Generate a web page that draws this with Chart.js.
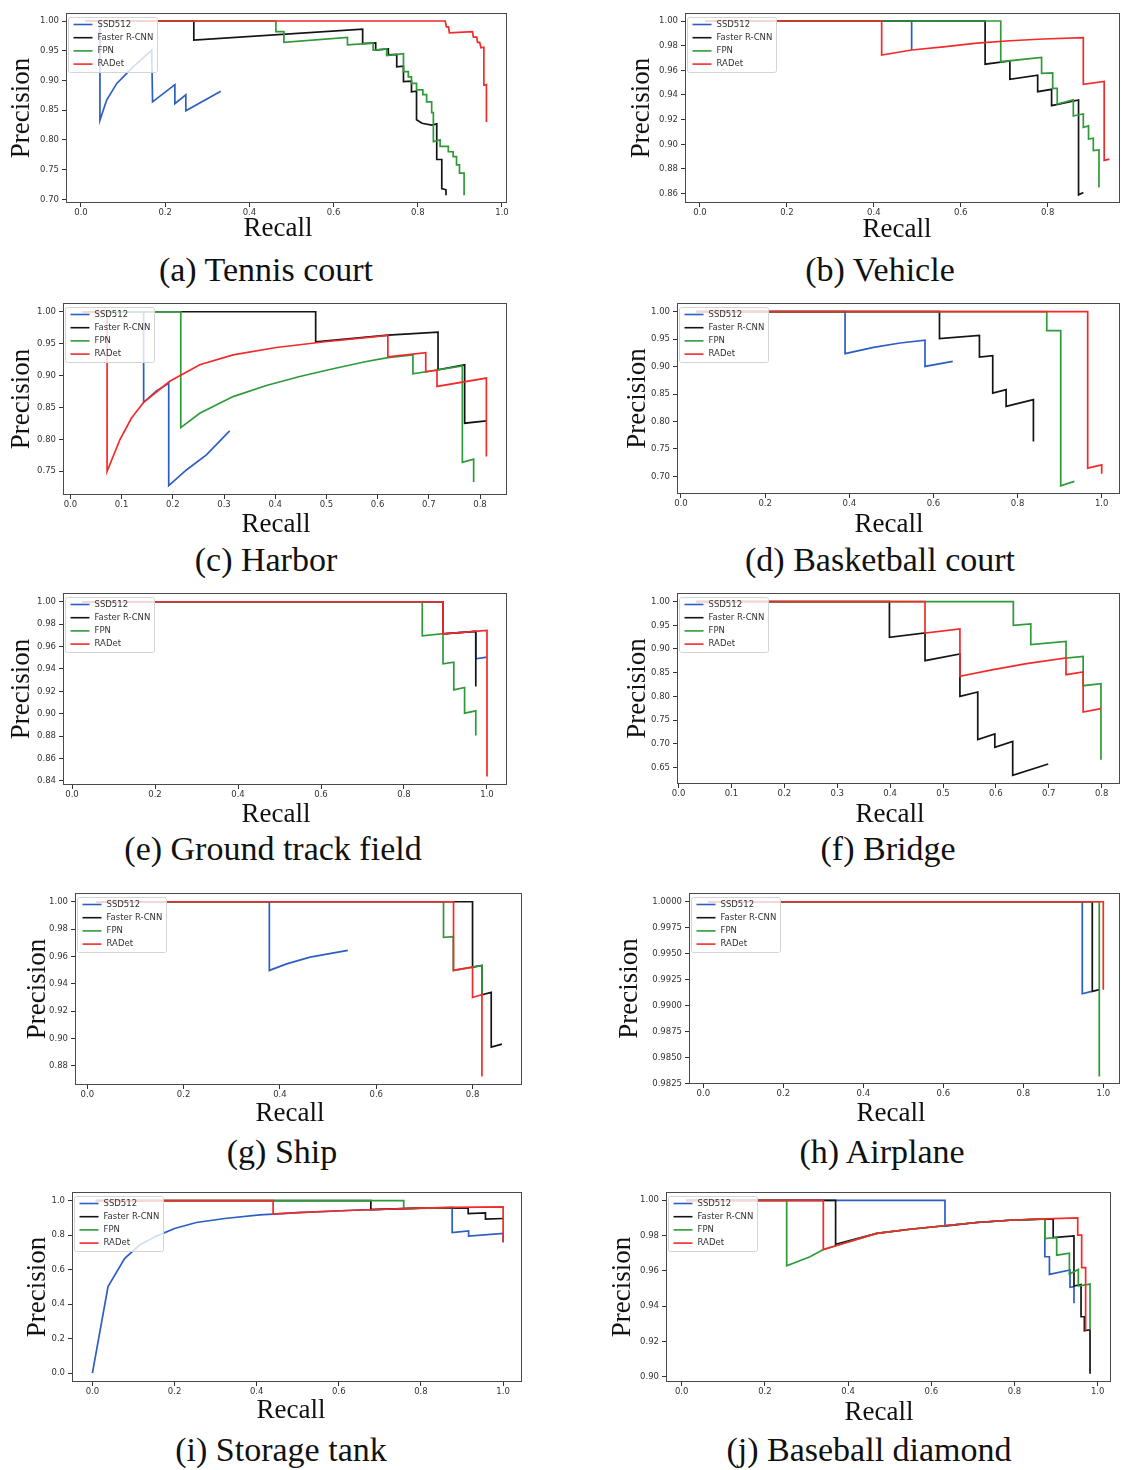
<!DOCTYPE html>
<html lang="en">
<head>
<meta charset="UTF-8">
<title>Precision-Recall curves per category</title>
<script src="https://cdn.jsdelivr.net/npm/chart.js"></script>
<style>
    * {
        margin: 0;
        padding: 0;
        box-sizing: border-box;
    }

    body {
        width: 1121px;
        height: 1470px;
        background: #fff;
        position: relative;
        overflow: hidden;
    }

    canvas {
        position: absolute;
    }

    /* sub-figure captions under each plot */
    .caption {
        position: absolute;
        width: 500px;
        text-align: center;
        font-family: "Liberation Serif", "Times New Roman", serif;
        font-size: 34px;
        line-height: 34px;
        color: #111;
        white-space: nowrap;
    }
</style>
</head>
<body>
<script>
    // legend entries, same order for every plot
    const seriesNames = ['SSD512', 'Faster R-CNN', 'FPN', 'RADet'];

    // tick values
    const xTicksFifth = [0, 0.2, 0.4, 0.6, 0.8, 1.0];
    const xTicksFifthShort = [0, 0.2, 0.4, 0.6, 0.8];
    const xTicksTenth = [0, 0.1, 0.2, 0.3, 0.4, 0.5, 0.6, 0.7, 0.8];
    const tennisYTicks = [0.70, 0.75, 0.80, 0.85, 0.90, 0.95, 1.00];
    const vehicleYTicks = [0.86, 0.88, 0.90, 0.92, 0.94, 0.96, 0.98, 1.00];
    const harborYTicks = [0.75, 0.80, 0.85, 0.90, 0.95, 1.00];
    const basketYTicks = [0.70, 0.75, 0.80, 0.85, 0.90, 0.95, 1.00];
    const groundYTicks = [0.84, 0.86, 0.88, 0.90, 0.92, 0.94, 0.96, 0.98, 1.00];
    const bridgeYTicks = [0.65, 0.70, 0.75, 0.80, 0.85, 0.90, 0.95, 1.00];
    const shipYTicks = [0.88, 0.90, 0.92, 0.94, 0.96, 0.98, 1.00];
    const airYTicks = [0.9825, 0.9850, 0.9875, 0.9900, 0.9925, 0.9950, 0.9975, 1.0000];
    const tankYTicks = [0.0, 0.2, 0.4, 0.6, 0.8, 1.0];
    const baseYTicks = [0.90, 0.92, 0.94, 0.96, 0.98, 1.00];

    // (a) Tennis court  [recall, precision]
    const tennisSSD = [[0.045,1],[0.045,0.833],[0.061,0.867],[0.085,0.895],[0.124,0.923],[0.168,0.951],[0.170,0.864],[0.223,0.893],[0.223,0.861],[0.249,0.876],[0.249,0.849],[0.332,0.882]];
    const tennisFRCNN = [[0.01,1],[0.268,1],[0.268,0.968],[0.669,0.9865],[0.669,0.962],[0.70,0.963],[0.70,0.951],[0.73,0.953],[0.73,0.943],[0.75,0.944],[0.75,0.923],[0.766,0.924],[0.766,0.898],[0.785,0.899],[0.785,0.881],[0.797,0.882],[0.797,0.834],[0.81,0.828],[0.833,0.825],[0.845,0.827],[0.845,0.767],[0.857,0.767],[0.857,0.718],[0.867,0.716],[0.867,0.707]];
    const tennisFPN = [[0.01,1],[0.463,1],[0.463,0.982],[0.482,0.982],[0.482,0.964],[0.633,0.9725],[0.633,0.96],[0.694,0.9627],[0.694,0.951],[0.726,0.953],[0.726,0.942],[0.766,0.945],[0.766,0.915],[0.7775,0.915],[0.7775,0.906],[0.785,0.906],[0.785,0.895],[0.797,0.895],[0.797,0.884],[0.812,0.884],[0.812,0.876],[0.821,0.876],[0.821,0.864],[0.833,0.864],[0.833,0.846],[0.837,0.846],[0.837,0.797],[0.853,0.8],[0.853,0.789],[0.8725,0.789],[0.8725,0.78],[0.884,0.78],[0.884,0.772],[0.892,0.772],[0.892,0.758],[0.899,0.758],[0.899,0.744],[0.91,0.744],[0.91,0.707]];
    const tennisRADet = [[0.01,1],[0.865,1],[0.868,0.99],[0.873,0.99],[0.875,0.98],[0.93,0.982],[0.932,0.973],[0.94,0.973],[0.942,0.964],[0.947,0.964],[0.95,0.955],[0.957,0.956],[0.957,0.892],[0.963,0.893],[0.963,0.83]];

    // (b) Vehicle
    const vehicleSSD = [[0.0115,1],[0.487,1],[0.487,0.9765]];
    const vehicleFRCNN = [[0.0115,1],[0.656,1],[0.656,0.965],[0.713,0.9676],[0.713,0.9527],[0.777,0.956],[0.777,0.9427],[0.809,0.9446],[0.809,0.9314],[0.871,0.936],[0.871,0.859],[0.882,0.861]];
    const vehicleFPN = [[0.0115,1],[0.692,1],[0.692,0.967],[0.786,0.9705],[0.786,0.9576],[0.8115,0.958],[0.8115,0.9454],[0.822,0.9454],[0.822,0.9327],[0.859,0.936],[0.859,0.923],[0.871,0.924],[0.882,0.9246],[0.882,0.9138],[0.894,0.915],[0.894,0.9043],[0.905,0.905],[0.905,0.895],[0.918,0.8955],[0.918,0.865]];
    const vehicleRADet = [[0.0115,1],[0.418,1],[0.418,0.9724],[0.487,0.9765],[0.56,0.979],[0.637,0.982],[0.713,0.984],[0.79,0.9854],[0.882,0.9865],[0.882,0.9486],[0.93,0.951],[0.93,0.887],[0.942,0.888]];

    // (c) Harbor
    const harborSSD = [[0.0234,1],[0.143,1],[0.143,0.858],[0.168,0.876],[0.192,0.888],[0.192,0.7275],[0.2265,0.752],[0.2656,0.7756],[0.311,0.8133]];
    const harborFRCNN = [[0.0234,1],[0.479,1],[0.479,0.953],[0.62,0.9635],[0.718,0.968],[0.718,0.909],[0.77,0.9168],[0.77,0.8253],[0.8124,0.829]];
    const harborFPN = [[0.0234,1],[0.2155,1],[0.2155,0.8185],[0.2526,0.841],[0.3177,0.867],[0.3827,0.8844],[0.448,0.8985],[0.513,0.9106],[0.578,0.922],[0.62,0.928],[0.669,0.9325],[0.669,0.9027],[0.7655,0.915],[0.7655,0.764],[0.7876,0.769],[0.7876,0.733]];
    const harborRADet = [[0.0234,1],[0.0716,1],[0.0716,0.75],[0.0963,0.799],[0.119,0.833],[0.143,0.858],[0.194,0.891],[0.2526,0.917],[0.3177,0.9325],[0.402,0.944],[0.497,0.953],[0.62,0.963],[0.62,0.9294],[0.694,0.9357],[0.694,0.906],[0.716,0.9085],[0.716,0.883],[0.8124,0.896],[0.8124,0.773]];

    // (d) Basketball court
    const basketSSD = [[0.0364,1],[0.39,1],[0.39,0.9235],[0.4576,0.935],[0.521,0.943],[0.58,0.948],[0.58,0.9004],[0.646,0.9095]];
    const basketFRCNN = [[0.0364,1],[0.6144,1],[0.6144,0.9508],[0.7094,0.9569],[0.7094,0.9174],[0.741,0.92],[0.741,0.8518],[0.7728,0.858],[0.7728,0.8275],[0.8377,0.8397],[0.8377,0.7638]];
    const basketFPN = [[0.0364,1],[0.8694,1],[0.8694,0.9654],[0.9026,0.9654],[0.9026,0.683],[0.935,0.691]];
    const basketRADet = [[0.0364,1],[0.9667,1],[0.9667,0.715],[1.0,0.721],[1.0,0.705]];

    // (e) Ground track field
    const groundSSD = [[0.025,1],[0.894,1],[0.894,0.9714],[0.973,0.9735],[0.973,0.949],[1.0,0.9505]];
    const groundFRCNN = [[0.025,1],[0.894,1],[0.894,0.9714],[0.973,0.9735],[0.973,0.9243]];
    const groundFPN = [[0.025,1],[0.844,1],[0.844,0.9696],[0.894,0.9714],[0.894,0.9446],[0.92,0.946],[0.92,0.9213],[0.946,0.9234],[0.946,0.9005],[0.973,0.9026],[0.973,0.8805]];
    const groundRADet = [[0.025,1],[0.894,1],[0.894,0.9714],[1.0,0.9744],[1.0,0.844]];

    // (f) Bridge (no SSD512 curve visible)
    const bridgeSSD = [];
    const bridgeFRCNN = [[0.0334,1],[0.3987,1],[0.3987,0.9246],[0.466,0.934],[0.466,0.8754],[0.532,0.8894],[0.532,0.8],[0.5657,0.8092],[0.5657,0.7085],[0.598,0.7204],[0.598,0.6923],[0.6318,0.7049],[0.6318,0.6331],[0.699,0.657]];
    const bridgeFPN = [[0.0334,1],[0.633,1],[0.633,0.95],[0.666,0.9528],[0.666,0.9092],[0.7326,0.9162],[0.7326,0.881],[0.765,0.8845],[0.765,0.8225],[0.7987,0.8268],[0.7987,0.6662]];
    const bridgeRADet = [[0.0334,1],[0.466,1],[0.466,0.9338],[0.532,0.9423],[0.532,0.8423],[0.595,0.8563],[0.658,0.869],[0.7326,0.881],[0.7326,0.8458],[0.765,0.8514],[0.765,0.7669],[0.7987,0.774]];

    // (g) Ship
    const shipSSD = [[0.018,1],[0.378,1],[0.378,0.9498],[0.414,0.9546],[0.4627,0.9595],[0.541,0.9644]];
    const shipFRCNN = [[0.018,1],[0.8,1],[0.8,0.9522],[0.8195,0.9534],[0.8195,0.932],[0.8388,0.9337],[0.8388,0.8937],[0.861,0.8959]];
    const shipFPN = [[0.018,1],[0.7397,1],[0.7397,0.9739],[0.76,0.9745],[0.76,0.9498],[0.8,0.9522],[0.8195,0.9534],[0.8195,0.932]];
    const shipRADet = [[0.018,1],[0.7605,1],[0.7605,0.9498],[0.8,0.9522],[0.8,0.93],[0.8195,0.932],[0.8195,0.8722]];

    // (h) Airplane
    const airSSD = [[0.0125,1],[0.9475,1],[0.9475,0.99115],[0.971,0.99138]];
    const airFRCNN = [[0.0125,1],[0.9725,1],[0.9725,0.99138],[0.99,0.99154]];
    const airFPN = [[0.0125,1],[0.99,1],[0.99,0.9832]];
    const airRADet = [[0.0125,1],[1.0,1],[1.0,0.99154]];

    // (i) Storage tank
    const tankSSD = [[0,0],[0.038,0.501],[0.0787,0.665],[0.115,0.742],[0.156,0.794],[0.2,0.838],[0.253,0.873],[0.322,0.896],[0.4075,0.917],[0.5,0.93],[0.635,0.944],[0.797,0.956],[0.876,0.958],[0.876,0.815],[0.916,0.8246],[0.916,0.7938],[1.0,0.809],[1.0,0.757]];
    const tankFRCNN = [[0.008,1],[0.678,1],[0.678,0.948],[0.797,0.956],[0.915,0.958],[0.915,0.925],[0.957,0.929],[0.957,0.892],[1.0,0.896]];
    const tankFPN = [[0.008,1],[0.758,1],[0.758,0.952],[0.88,0.96]];
    const tankRADet = [[0.008,1],[0.44,1],[0.44,0.921],[0.5,0.93],[0.635,0.944],[0.797,0.956],[0.88,0.96],[1.0,0.963],[1.0,0.76]];

    // (j) Baseball diamond
    const baseSSD = [[0.0104,1],[0.633,1],[0.633,0.9853],[0.709,0.9874],[0.789,0.9887],[0.873,0.9895],[0.873,0.968],[0.884,0.968],[0.884,0.958],[0.9335,0.9605],[0.9335,0.9507],[0.943,0.951],[0.943,0.9416]];
    const baseFRCNN = [[0.0104,1],[0.37,1],[0.37,0.975],[0.469,0.9812],[0.549,0.9836],[0.709,0.9874],[0.789,0.9887],[0.893,0.9895],[0.893,0.9789],[0.943,0.9798],[0.943,0.9514],[0.96,0.9523],[0.96,0.934],[0.968,0.934],[0.968,0.926],[0.9816,0.9266],[0.9816,0.9017]];
    const baseFPN = [[0.0104,1],[0.2524,1],[0.2524,0.9629],[0.3085,0.968],[0.3405,0.9721],[0.3886,0.9755],[0.469,0.9812],[0.549,0.9836],[0.709,0.9874],[0.789,0.9887],[0.873,0.9895],[0.873,0.9783],[0.9014,0.9789],[0.9014,0.9689],[0.932,0.97],[0.932,0.9582],[0.9535,0.9608],[0.9535,0.9514],[0.9816,0.9525],[0.9816,0.9266]];
    const baseRADet = [[0.0104,1],[0.3405,1],[0.3405,0.9721],[0.3886,0.9755],[0.469,0.9812],[0.549,0.9836],[0.709,0.9874],[0.789,0.9887],[0.873,0.9895],[0.952,0.99],[0.952,0.9802],[0.9615,0.9802],[0.9615,0.9618],[0.971,0.9618],[0.971,0.926]];

    // styling
    const seriesColors = ['#2c5ec4', '#141414', '#2f9a3a', '#f42a2a'];
    const titleSize = 27;
    const titleFont = '27px "Liberation Serif"';
    const tickFont = { family: 'DejaVu Sans', size: 8.5 };

    // layout of each subplot: frame = plot box [left, top, right, bottom] in page px
    const panels = [
        { caption: '(a) Tennis court', series: [tennisSSD, tennisFRCNN, tennisFPN, tennisRADet],
          xTicks: xTicksFifth, yTicks: tennisYTicks, yDigits: 2,
          frame: [66, 13, 507, 203], xRange: [-0.0356, 1.0119], yRange: [0.6938, 1.0135],
          precX: 21, recallX: 278, recallY: 227, capX: 266, capBase: 281 },
        { caption: '(b) Vehicle', series: [vehicleSSD, vehicleFRCNN, vehicleFPN, vehicleRADet],
          xTicks: xTicksFifthShort, yTicks: vehicleYTicks, yDigits: 2,
          frame: [685, 13, 1120, 203], xRange: [-0.0345, 0.9664], yRange: [0.8524, 1.0065],
          precX: 641, recallX: 897, recallY: 228, capX: 880, capBase: 281 },
        { caption: '(c) Harbor', series: [harborSSD, harborFRCNN, harborFPN, harborRADet],
          xTicks: xTicksTenth, yTicks: harborYTicks, yDigits: 2,
          frame: [63, 303, 507, 495], xRange: [-0.0145, 0.8527], yRange: [0.7128, 1.0137],
          precX: 21, recallX: 276, recallY: 523, capX: 266, capBase: 571 },
        { caption: '(d) Basketball court', series: [basketSSD, basketFRCNN, basketFPN, basketRADet],
          xTicks: xTicksFifth, yTicks: basketYTicks, yDigits: 2,
          frame: [677, 303, 1120, 494], xRange: [-0.0095, 1.0435], yRange: [0.668, 1.0158],
          precX: 637, recallX: 889, recallY: 523, capX: 880, capBase: 571 },
        { caption: '(e) Ground track field', series: [groundSSD, groundFRCNN, groundFPN, groundRADet],
          xTicks: xTicksFifth, yTicks: groundYTicks, yDigits: 2,
          frame: [63, 593, 507, 785], xRange: [-0.0217, 1.0482], yRange: [0.8364, 1.0078],
          precX: 21, recallX: 276, recallY: 813, capX: 273, capBase: 860 },
        { caption: '(f) Bridge', series: [bridgeSSD, bridgeFRCNN, bridgeFPN, bridgeRADet],
          xTicks: xTicksTenth, yTicks: bridgeYTicks, yDigits: 2,
          frame: [677, 593, 1120, 784], xRange: [-0.003, 0.8347], yRange: [0.6148, 1.0183],
          precX: 637, recallX: 890, recallY: 813, capX: 888, capBase: 860 },
        { caption: '(g) Ship', series: [shipSSD, shipFRCNN, shipFPN, shipRADet],
          xTicks: xTicksFifthShort, yTicks: shipYTicks, yDigits: 2,
          frame: [75, 893, 522, 1085], xRange: [-0.0256, 0.9027], yRange: [0.866, 1.0064],
          precX: 37, recallX: 290, recallY: 1112, capX: 282, capBase: 1163 },
        { caption: '(h) Airplane', series: [airSSD, airFRCNN, airFPN, airRADet],
          xTicks: xTicksFifth, yTicks: airYTicks, yDigits: 4,
          frame: [689, 893, 1120, 1084], xRange: [-0.0358, 1.0418], yRange: [0.98247, 1.00084],
          precX: 629, recallX: 891, recallY: 1112, capX: 882, capBase: 1163 },
        { caption: '(i) Storage tank', series: [tankSSD, tankFRCNN, tankFPN, tankRADet],
          xTicks: xTicksFifth, yTicks: tankYTicks, yDigits: 1,
          frame: [72, 1192, 522, 1382], xRange: [-0.0497, 1.046], yRange: [-0.052, 1.0497],
          precX: 37, recallX: 291, recallY: 1409, capX: 281, capBase: 1461 },
        { caption: '(j) Baseball diamond', series: [baseSSD, baseFRCNN, baseFPN, baseRADet],
          xTicks: xTicksFifth, yTicks: baseYTicks, yDigits: 2,
          frame: [666, 1192, 1111, 1382], xRange: [-0.0377, 1.032], yRange: [0.897, 1.0047],
          precX: 622, recallX: 879, recallY: 1411, capX: 869, capBase: 1461 }
    ];

    // box around the plot area (all four spines)
    const framePlugin = {
        id: 'frame',
        afterDatasetsDraw(chart) {
            const { ctx, chartArea: a } = chart;
            ctx.save();
            ctx.strokeStyle = '#4a4a4a';
            ctx.lineWidth = 1;
            ctx.strokeRect(a.left + 0.5, a.top + 0.5, a.right - a.left - 1, a.bottom - a.top - 1);
            ctx.restore();
        }
    };

    // matplotlib-like legend box inside the upper left corner
    const boxLegendPlugin = {
        id: 'boxLegend',
        afterDraw(chart) {
            const { ctx, chartArea: a } = chart;
            const x = a.left + 2.5, y = a.top + 4.5;
            ctx.save();
            ctx.beginPath();
            ctx.roundRect(x, y, 89, 55, 2);
            ctx.fillStyle = 'rgba(255,255,255,0.8)';
            ctx.fill();
            ctx.strokeStyle = '#d4d4d4';
            ctx.lineWidth = 1;
            ctx.stroke();
            ctx.font = '8.5px "DejaVu Sans"';
            ctx.textBaseline = 'middle';
            chart.data.datasets.forEach((ds, i) => {
                const ry = y + 7 + i * 13.2;
                ctx.strokeStyle = ds.borderColor;
                ctx.lineWidth = 1.6;
                ctx.beginPath();
                ctx.moveTo(x + 5, ry);
                ctx.lineTo(x + 24, ry);
                ctx.stroke();
                ctx.fillStyle = '#333';
                ctx.fillText(ds.label, x + 29, ry);
            });
            ctx.restore();
        }
    };

    panels.forEach(p => {
        const [fl, ft, fr, fb] = p.frame;
        const left = Math.round(p.precX - titleSize / 2);
        const top = ft - 8;
        const right = Math.min(1121, fr + 10);
        const bottom = Math.round(p.recallY + titleSize / 2);

        const canvas = document.createElement('canvas');
        canvas.width = right - left;
        canvas.height = bottom - top;
        canvas.style.left = left + 'px';
        canvas.style.top = top + 'px';
        document.body.appendChild(canvas);

        const cap = document.createElement('div');
        cap.className = 'caption';
        cap.textContent = p.caption;
        cap.style.left = (p.capX - 250) + 'px';
        cap.style.top = (p.capBase - 28.5) + 'px';
        document.body.appendChild(cap);

        // x axis label sits a little left of the plot centre in the original
        const recallLabel = {
            id: 'recallLabel',
            afterDraw(chart) {
                const ctx = chart.ctx;
                ctx.save();
                ctx.font = titleFont;
                ctx.fillStyle = '#111';
                ctx.textAlign = 'center';
                ctx.textBaseline = 'alphabetic';
                ctx.fillText('Recall', p.recallX - left, p.recallY + 9 - top);
                ctx.restore();
            }
        };

        new Chart(canvas, {
            type: 'line',
            data: {
                datasets: p.series.map((pts, i) => ({
                    label: seriesNames[i],
                    data: pts,
                    borderColor: seriesColors[i],
                    borderWidth: 1.7,
                    pointRadius: 0,
                    tension: 0,
                    fill: false,
                    order: 3 - i // later methods drawn on top
                }))
            },
            options: {
                responsive: false,
                animation: false,
                devicePixelRatio: 1,
                layout: { padding: { left: 0, top: 8, right: right - fr, bottom: 0 } },
                plugins: { legend: { display: false }, tooltip: { enabled: false } },
                scales: {
                    x: {
                        type: 'linear',
                        min: p.xRange[0],
                        max: p.xRange[1],
                        afterBuildTicks: s => { s.ticks = p.xTicks.map(v => ({ value: v })); },
                        afterFit: s => { s.height = bottom - fb; s.paddingLeft = 0; s.paddingRight = 0; },
                        ticks: { autoSkip: false, maxRotation: 0, padding: 1, color: '#333', font: tickFont,
                                 callback: v => v.toFixed(1) },
                        grid: { display: true, drawOnChartArea: false, drawTicks: true, tickLength: 4, color: '#333' },
                        border: { display: false },
                        title: { display: false }
                    },
                    y: {
                        type: 'linear',
                        min: p.yRange[0],
                        max: p.yRange[1],
                        afterBuildTicks: s => { s.ticks = p.yTicks.map(v => ({ value: v })); },
                        afterFit: s => { s.width = fl - left; s.paddingTop = 0; s.paddingBottom = 0; },
                        ticks: { autoSkip: false, padding: 3, color: '#333', font: tickFont,
                                 callback: v => v.toFixed(p.yDigits) },
                        grid: { display: true, drawOnChartArea: false, drawTicks: true, tickLength: 4, color: '#333' },
                        border: { display: false },
                        title: { display: true, text: 'Precision', color: '#111', padding: 0,
                                 font: { family: 'Liberation Serif', size: titleSize, lineHeight: 1 } }
                    }
                }
            },
            plugins: [framePlugin, boxLegendPlugin, recallLabel]
        });
    });
</script>
</body>
</html>
